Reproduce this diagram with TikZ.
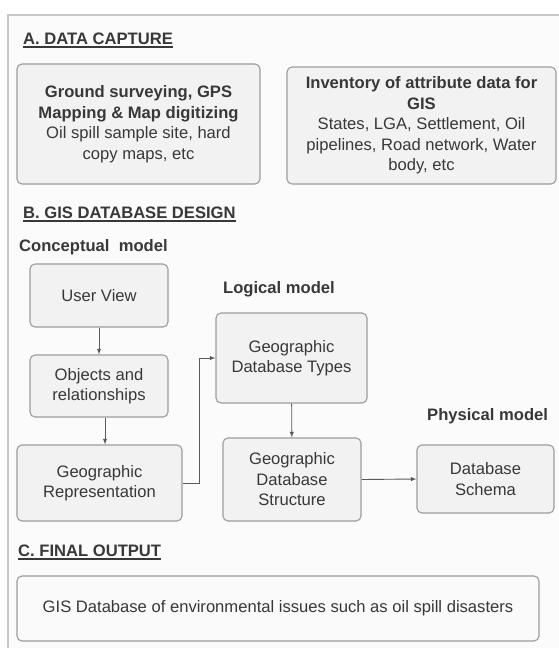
\documentclass[tikz,border=0pt]{standalone}
\usepackage{fontspec}
\setmainfont{Liberation Sans}
\usetikzlibrary{arrows,shapes}

\definecolor{txt}{HTML}{383838}
\definecolor{edge}{HTML}{9C9C9C}
\definecolor{boxfill}{HTML}{F2F2F2}
\definecolor{framecol}{HTML}{C6C6C6}
\definecolor{arrowcol}{HTML}{5A5A5A}

\begin{document}
\begin{tikzpicture}[x=1pt, y=-1pt, text=txt, font=\fontsize{16.6}{20.5}\selectfont]
		\tikzstyle{box} = [draw=edge, fill=boxfill, rounded corners=5pt, line width=1.1pt, align=center, inner sep=0pt]
		\tikzstyle{heading} = [font=\fontsize{16.6}{20.5}\selectfont\bfseries, anchor=base west, inner sep=0pt]
		\tikzstyle{uline} = [draw=txt, line width=1.3pt]
		\useasboundingbox (0,0) rectangle (559,648);
		\fill[white] (0,0) rectangle (559,648);
		\fill[gray!3] (8,15) rectangle (559,648);
		\draw[framecol, line width=2pt] (559,15) -- (8,15) -- (8,648);
		% section headings
		\node[heading] (hA) at (23,44) {A. DATA CAPTURE};
		\node[heading] (hB) at (23,218) {B. GIS DATABASE DESIGN};
		\node[heading] (hC) at (18,556) {C. FINAL OUTPUT};
		\foreach \h in {hA, hB, hC}
		\draw [uline] ([yshift=-3pt]\h.base west) -- ([yshift=-3pt]\h.base east);
		\node[heading] (concept) at (19,251) {Conceptual\ \ model};
		\node[heading] (logic) at (223,293) {Logical model};
		\node[heading] (phys) at (427,420) {Physical model};
		% data capture
		\node[box, minimum width=243pt, minimum height=120pt] (gps) at (138.5,124) {\textbf{Ground surveying, GPS}\\\textbf{Mapping \& Map digitizing}\\Oil spill sample site, hard\\copy maps, etc};
		\node[box, minimum width=269pt, minimum height=117pt] (inventory) at (421.5,125.5) {\textbf{Inventory of attribute data for}\\\textbf{GIS}\\States, LGA, Settlement, Oil\\pipelines, Road network, Water\\body, etc};
		% database design
		\node[box, minimum width=138pt, minimum height=63pt] (userview) at (99,295.5) {User View};
		\node[box, minimum width=138pt, minimum height=62pt] (objrel) at (99,386) {Objects and\\relationships};
		\node[box, minimum width=165pt, minimum height=76pt] (georep) at (99.5,483) {Geographic\\Representation};
		\node[box, minimum width=151pt, minimum height=90pt] (geotypes) at (291.5,358) {Geographic\\Database Types};
		\node[box, minimum width=138pt, minimum height=83pt] (dbstruct) at (292,479.5) {Geographic\\Database\\Structure};
		\node[box, minimum width=137pt, minimum height=68pt] (schema) at (485.5,479) {Database\\Schema};
		% final output
		\node[box, fill=gray!4, minimum width=522pt, minimum height=65pt] (final) at (278,608.5) {GIS Database of environmental issues such as oil spill disasters};
		\foreach \from/\to in {userview/objrel, geotypes/dbstruct}
		\draw [->, >=latex, arrowcol, line width=0.9pt] (\from) -- (\to);
		\draw [->, >=latex, arrowcol, line width=0.9pt] ([xshift=6pt]objrel.south) -- ([xshift=6pt]objrel.south |- georep.north);
		\draw [->, >=latex, arrowcol, line width=0.9pt] (georep.east) -- ++(17,0) |- (geotypes.west);
		\draw [->, >=latex, arrowcol, line width=0.9pt] (dbstruct.east) -- (schema.west);
	\end{tikzpicture}
\end{document}
